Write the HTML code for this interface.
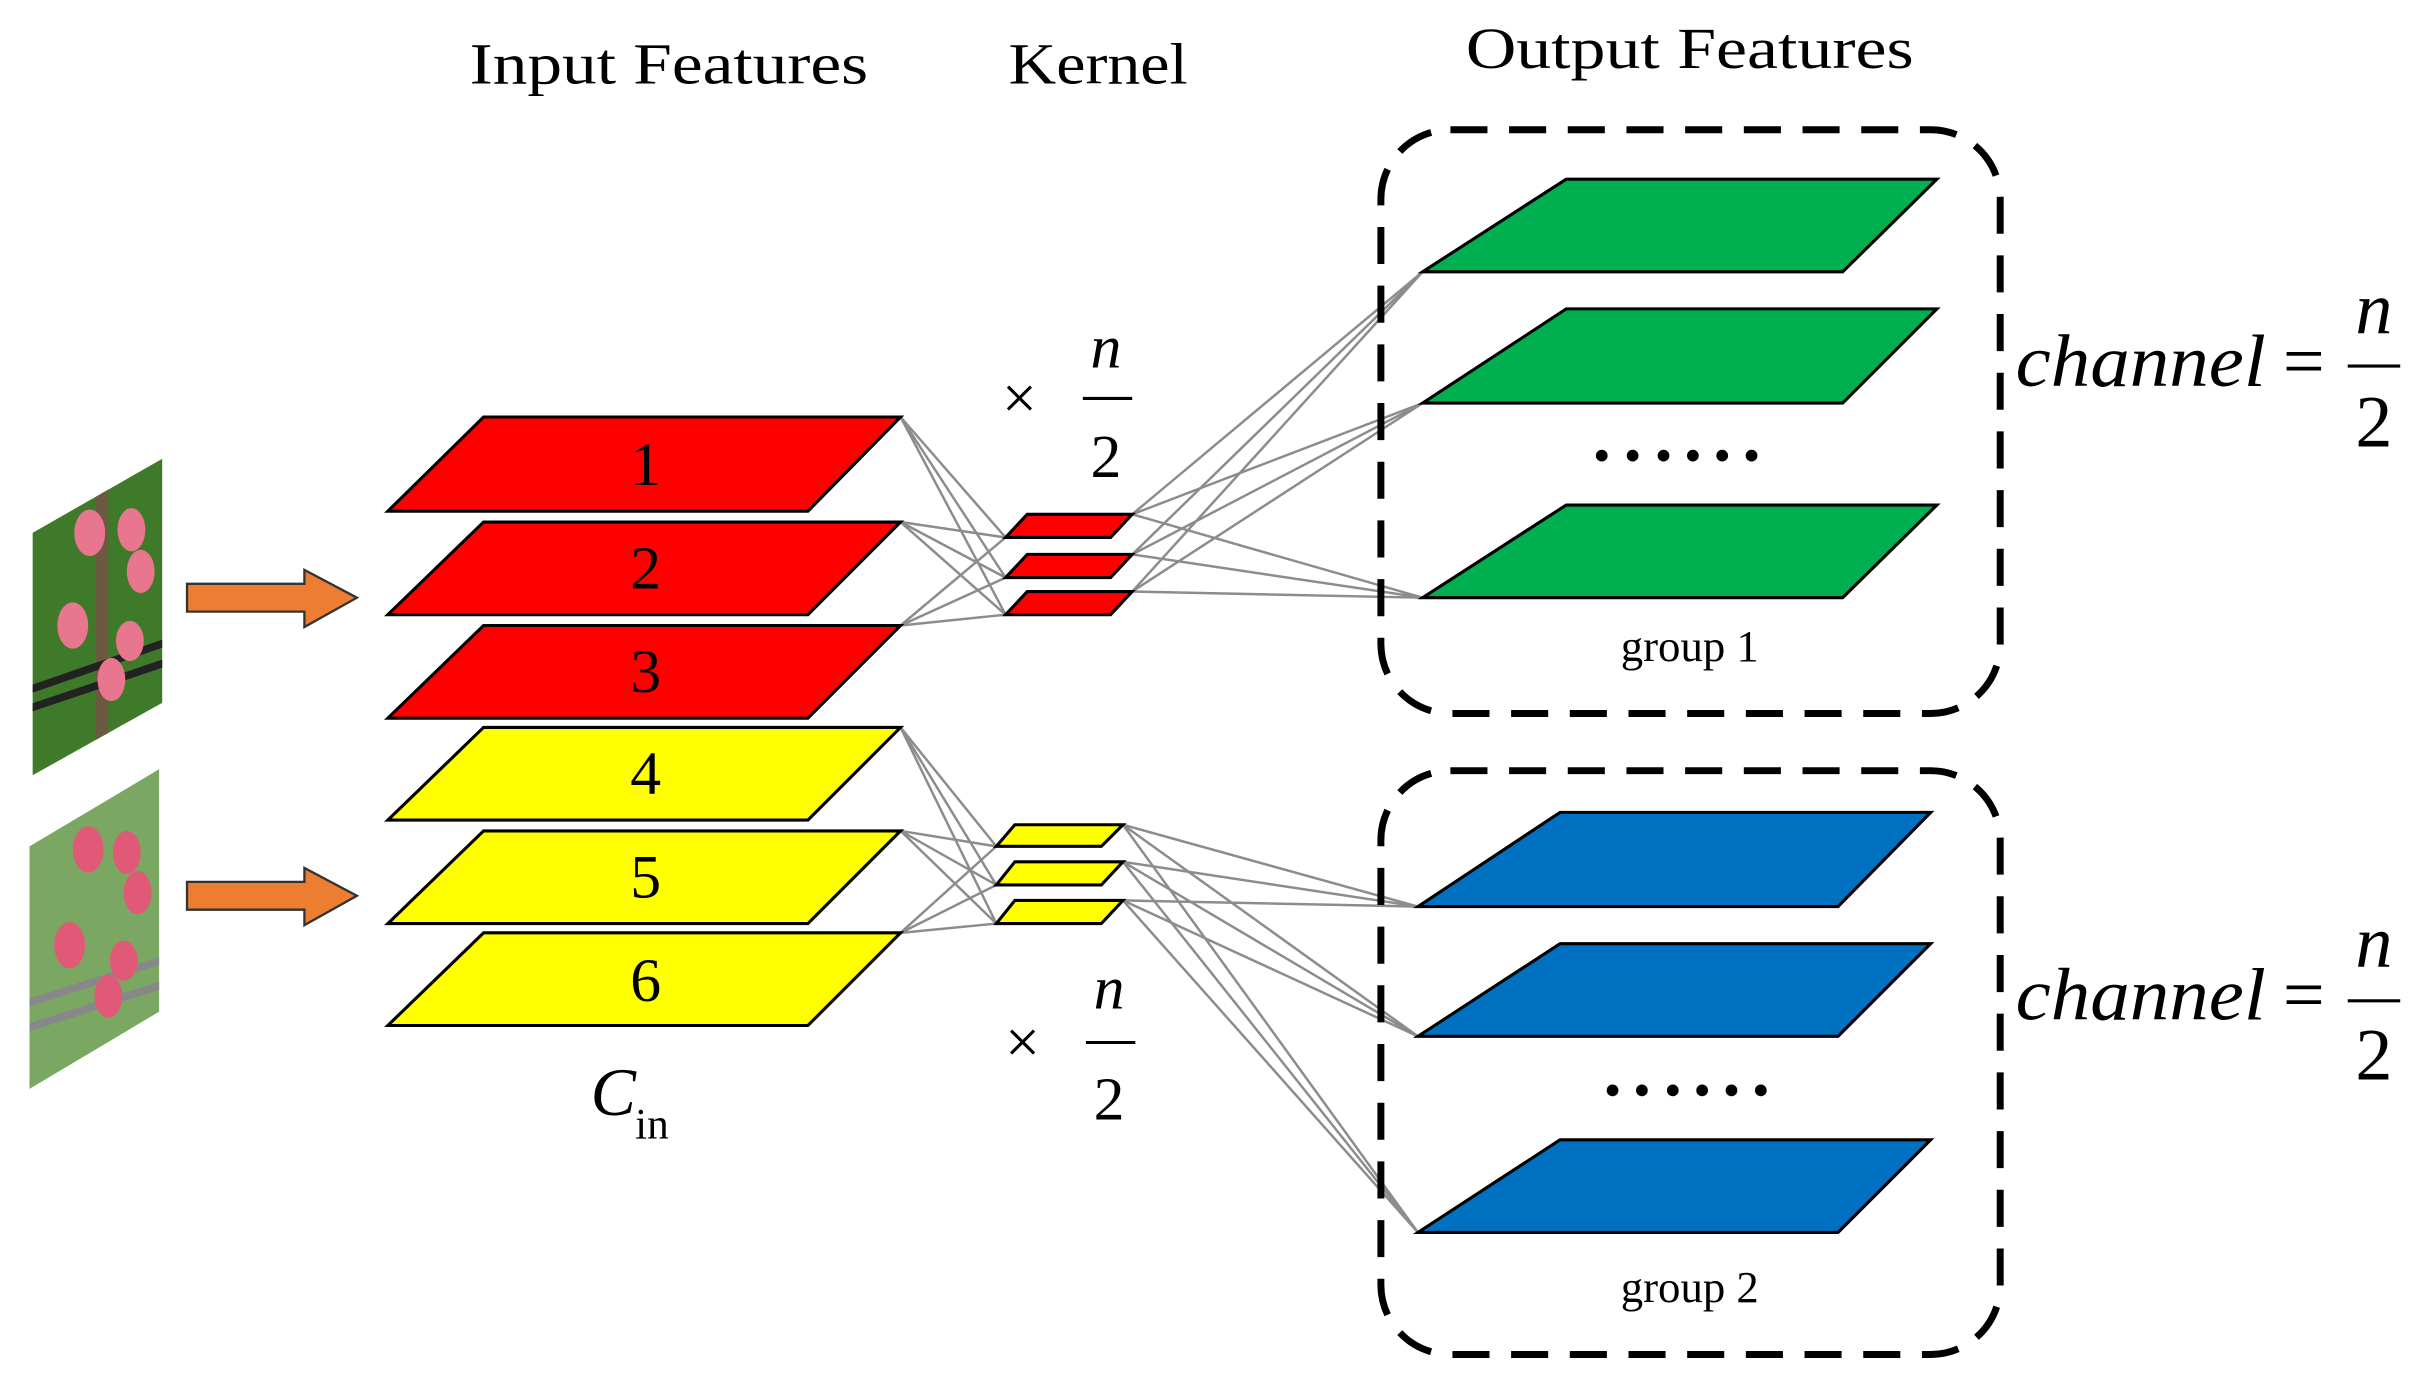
<!DOCTYPE html>
<html><head><meta charset="utf-8"><style>
html,body{margin:0;padding:0;background:#fff;}
svg{display:block;}
text{font-family:"Liberation Serif",serif;}
</style></head><body>
<svg width="2422" height="1390" viewBox="0 0 1568 900" xmlns="http://www.w3.org/2000/svg">
<defs>
<clipPath id="c1"><polygon points="21,345 105,297 105,455 21,502"/></clipPath>
<clipPath id="c2"><polygon points="19,548 103,498 103,655 19,705"/></clipPath>
</defs>
<g clip-path="url(#c1)">
<rect x="15" y="290" width="95" height="220" fill="#3f7a2a"/>
<rect x="62" y="290" width="8" height="220" fill="#6b5a40"/>
<line x1="15" y1="448" x2="110" y2="415" stroke="#222" stroke-width="5"/>
<line x1="15" y1="460" x2="110" y2="428" stroke="#222" stroke-width="5"/>
<ellipse cx="58" cy="345" rx="10" ry="15" fill="#e8768e"/>
<ellipse cx="85" cy="343" rx="9" ry="14" fill="#e8768e"/>
<ellipse cx="91" cy="370" rx="9" ry="14" fill="#e8768e"/>
<ellipse cx="47" cy="405" rx="10" ry="15" fill="#e8768e"/>
<ellipse cx="72" cy="440" rx="9" ry="14" fill="#e8768e"/>
<ellipse cx="84" cy="415" rx="9" ry="13" fill="#e8768e"/>
</g>
<g clip-path="url(#c2)">
<rect x="10" y="490" width="100" height="220" fill="#7aa862"/>
<line x1="10" y1="652" x2="110" y2="620" stroke="#888" stroke-width="5"/>
<line x1="10" y1="668" x2="110" y2="636" stroke="#888" stroke-width="5"/>
<ellipse cx="57" cy="550" rx="10" ry="15" fill="#e05a78"/>
<ellipse cx="82" cy="552" rx="9" ry="14" fill="#e05a78"/>
<ellipse cx="89" cy="578" rx="9" ry="14" fill="#e05a78"/>
<ellipse cx="45" cy="612" rx="10" ry="15" fill="#e05a78"/>
<ellipse cx="70" cy="645" rx="9" ry="14" fill="#e05a78"/>
<ellipse cx="80" cy="622" rx="9" ry="13" fill="#e05a78"/>
</g>
<polygon points="121,378 197,378 197,369 231,387 197,406 197,396 121,396" fill="#ed7d31" stroke="#333" stroke-width="1.5"/>
<polygon points="121,571 197,571 197,562 231,580 197,599 197,589 121,589" fill="#ed7d31" stroke="#333" stroke-width="1.5"/>
<g stroke="#8c8c8c" stroke-width="1.6">
<line x1="583" y1="270" x2="651" y2="348"/><line x1="583" y1="270" x2="651" y2="374"/><line x1="583" y1="270" x2="651" y2="398"/>
<line x1="583" y1="338" x2="651" y2="348"/><line x1="583" y1="338" x2="651" y2="374"/><line x1="583" y1="338" x2="651" y2="398"/>
<line x1="583" y1="405" x2="651" y2="348"/><line x1="583" y1="405" x2="651" y2="374"/><line x1="583" y1="405" x2="651" y2="398"/>
<line x1="733" y1="333" x2="921" y2="176"/><line x1="733" y1="333" x2="921" y2="261"/><line x1="733" y1="333" x2="921" y2="387"/>
<line x1="733" y1="359" x2="921" y2="176"/><line x1="733" y1="359" x2="921" y2="261"/><line x1="733" y1="359" x2="921" y2="387"/>
<line x1="733" y1="383" x2="921" y2="176"/><line x1="733" y1="383" x2="921" y2="261"/><line x1="733" y1="383" x2="921" y2="387"/>
<line x1="583" y1="471" x2="645" y2="548"/><line x1="583" y1="471" x2="645" y2="573"/><line x1="583" y1="471" x2="645" y2="598"/>
<line x1="583" y1="538" x2="645" y2="548"/><line x1="583" y1="538" x2="645" y2="573"/><line x1="583" y1="538" x2="645" y2="598"/>
<line x1="583" y1="604" x2="645" y2="548"/><line x1="583" y1="604" x2="645" y2="573"/><line x1="583" y1="604" x2="645" y2="598"/>
<line x1="727" y1="534" x2="918" y2="587"/><line x1="727" y1="534" x2="918" y2="671"/><line x1="727" y1="534" x2="918" y2="798"/>
<line x1="727" y1="558" x2="918" y2="587"/><line x1="727" y1="558" x2="918" y2="671"/><line x1="727" y1="558" x2="918" y2="798"/>
<line x1="727" y1="583" x2="918" y2="587"/><line x1="727" y1="583" x2="918" y2="671"/><line x1="727" y1="583" x2="918" y2="798"/>
</g>
<g stroke="#000" stroke-width="2">
<polygon points="313,270 583,270 523,331 251,331" fill="#ff0000"/>
<polygon points="313,338 583,338 523,398 251,398" fill="#ff0000"/>
<polygon points="313,405 583,405 523,465 251,465" fill="#ff0000"/>
<polygon points="313,471 583,471 523,531 251,531" fill="#ffff00"/>
<polygon points="313,538 583,538 523,598 251,598" fill="#ffff00"/>
<polygon points="313,604 583,604 523,664 251,664" fill="#ffff00"/>
<polygon points="665,333 733,333 719,348 651,348" fill="#ff0000"/>
<polygon points="665,359 733,359 719,374 651,374" fill="#ff0000"/>
<polygon points="665,383 733,383 719,398 651,398" fill="#ff0000"/>
<polygon points="657,534 727,534 713,548 645,548" fill="#ffff00"/>
<polygon points="657,558 727,558 713,573 645,573" fill="#ffff00"/>
<polygon points="657,583 727,583 713,598 645,598" fill="#ffff00"/>
<polygon points="1014,116 1254,116 1193,176 921,176" fill="#00b050"/>
<polygon points="1014,200 1254,200 1193,261 921,261" fill="#00b050"/>
<polygon points="1014,327 1254,327 1193,387 921,387" fill="#00b050"/>
<polygon points="1010,526 1250,526 1190,587 918,587" fill="#0070c0"/>
<polygon points="1010,611 1250,611 1190,671 918,671" fill="#0070c0"/>
<polygon points="1010,738 1250,738 1190,798 918,798" fill="#0070c0"/>
</g>
<rect x="894" y="84" width="401" height="378" rx="45" fill="none" stroke="#000" stroke-width="4.5" stroke-dasharray="24,14"/>
<rect x="894" y="499" width="401" height="378" rx="45" fill="none" stroke="#000" stroke-width="4.5" stroke-dasharray="24,14"/>
<g fill="#000">
<circle cx="1037" cy="295" r="3.8"/><circle cx="1057" cy="295" r="3.8"/><circle cx="1077" cy="295" r="3.8"/><circle cx="1096" cy="295" r="3.8"/><circle cx="1115" cy="295" r="3.8"/><circle cx="1134" cy="295" r="3.8"/>
<circle cx="1044" cy="706" r="3.8"/><circle cx="1063" cy="706" r="3.8"/><circle cx="1083" cy="706" r="3.8"/><circle cx="1102" cy="706" r="3.8"/><circle cx="1121" cy="706" r="3.8"/><circle cx="1140" cy="706" r="3.8"/>
</g>
<g font-size="38" text-anchor="middle" fill="#000">
<text x="433" y="54" textLength="258" lengthAdjust="spacingAndGlyphs">Input Features</text>
<text x="711" y="54" textLength="116" lengthAdjust="spacingAndGlyphs">Kernel</text>
<text x="1094" y="44" textLength="290" lengthAdjust="spacingAndGlyphs">Output Features</text>
</g>
<g font-size="40" text-anchor="middle" fill="#000">
<text x="418" y="314">1</text>
<text x="418" y="381">2</text>
<text x="418" y="448">3</text>
<text x="418" y="514">4</text>
<text x="418" y="581">5</text>
<text x="418" y="648">6</text>
</g>
<g font-size="29" text-anchor="middle">
<text x="1094" y="428">group 1</text>
<text x="1094" y="843">group 2</text>
</g>
<g font-size="40" text-anchor="middle">
<text x="660" y="271">×</text>
<text x="716" y="238" font-style="italic">n</text>
<line x1="701" y1="258" x2="733" y2="258" stroke="#000" stroke-width="2"/>
<text x="716" y="309">2</text>
<text x="662" y="688">×</text>
<text x="718" y="653" font-style="italic">n</text>
<line x1="703" y1="675" x2="735" y2="675" stroke="#000" stroke-width="2"/>
<text x="718" y="725">2</text>
<text x="397" y="722" font-style="italic" font-size="44">C</text>
<text x="422" y="737" font-size="28">in</text>
</g>
<g font-size="48">
<text x="1305" y="250" font-style="italic" textLength="162" lengthAdjust="spacingAndGlyphs">channel</text>
<text x="1478" y="250">=</text>
<text x="1537" y="216" font-style="italic" text-anchor="middle">n</text>
<line x1="1520" y1="237" x2="1554" y2="237" stroke="#000" stroke-width="2"/>
<text x="1537" y="289" text-anchor="middle">2</text>
<text x="1305" y="660" font-style="italic" textLength="162" lengthAdjust="spacingAndGlyphs">channel</text>
<text x="1478" y="660">=</text>
<text x="1537" y="626" font-style="italic" text-anchor="middle">n</text>
<line x1="1520" y1="648" x2="1554" y2="648" stroke="#000" stroke-width="2"/>
<text x="1537" y="699" text-anchor="middle">2</text>
</g>
</svg>
</body></html>
